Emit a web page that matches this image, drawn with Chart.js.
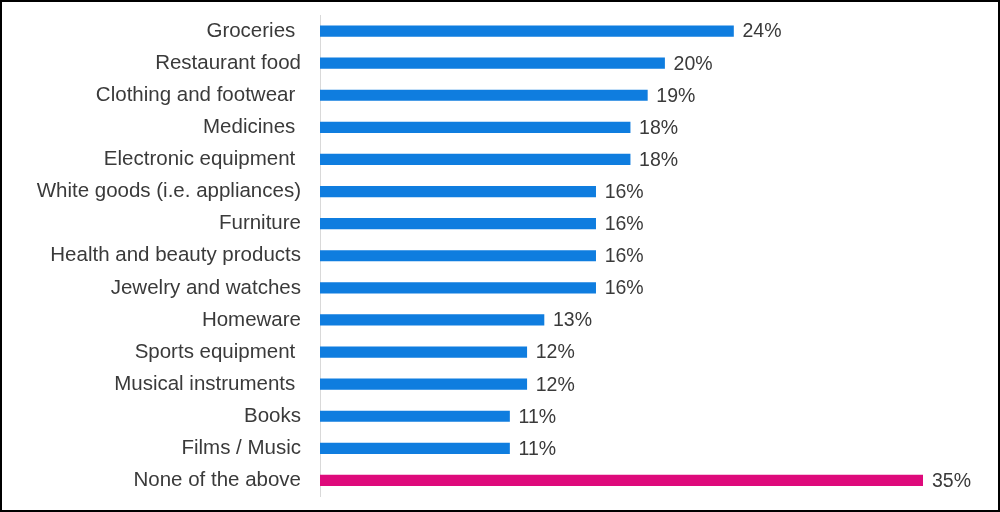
<!DOCTYPE html>
<html>
<head>
<meta charset="utf-8">
<script src="https://cdn.jsdelivr.net/npm/chart.js@4"></script>
<style>
  html, body { margin: 0; padding: 0; background: #fff; }
  #wrap { position: relative; width: 1000px; height: 512px; }
  #frame { position: absolute; inset: 0; border: 2px solid #000; pointer-events: none; box-sizing: border-box; }
  canvas { display: block; }
</style>
</head>
<body>
<div id="wrap">
  <canvas id="chart" width="1000" height="512"></canvas>
  <div id="frame"></div>
</div>
<script>
// ── Data ────────────────────────────────────────────────────────────────────

const categories = [
  "Groceries ",
  "Restaurant food",
  "Clothing and footwear ",
  "Medicines ",
  "Electronic equipment ",
  "White goods (i.e. appliances)",
  "Furniture",
  "Health and beauty products",
  "Jewelry and watches",
  "Homeware",
  "Sports equipment ",
  "Musical instruments ",
  "Books",
  "Films / Music",
  "None of the above"
];
const values = [24, 20, 19, 18, 18, 16, 16, 16, 16, 13, 12, 12, 11, 11, 35];
const highlight = "None of the above";

const BLUE = "#0f7ddf";
const PINK = "#de0a7b";
const TEXT = "#3a3a3a";
const FONT = "'Liberation Sans', Arial, sans-serif";

// ── Value labels at bar ends ────────────────────────────────────────────────

const barLabels = {
  id: "barLabels",
  afterDatasetsDraw(chart) {
    const ctx = chart.ctx;
    const meta = chart.getDatasetMeta(0);
    ctx.save();
    ctx.font = `19.5px ${FONT}`;
    ctx.fillStyle = TEXT;
    ctx.textAlign = "left";
    ctx.textBaseline = "middle";
    meta.data.forEach((bar, i) => {
      ctx.fillText(values[i] + "%", bar.x + 9, bar.y + 1);
    });
    ctx.restore();
  }
};

// ── Chart ───────────────────────────────────────────────────────────────────

new Chart(document.getElementById("chart"), {
  type: "bar",
  data: {
    labels: categories,
    datasets: [{
      data: values,
      backgroundColor: categories.map(c => c === highlight ? PINK : BLUE),
      barThickness: 10.5,
      borderWidth: 0
    }]
  },
  options: {
    indexAxis: "y",
    responsive: false,
    animation: false,
    layout: { padding: { left: 0, right: 77, top: 15, bottom: 15.5 } },
    plugins: {
      legend: { display: false },
      tooltip: { enabled: false }
    },
    scales: {
      x: {
        display: false,
        min: 0,
        max: 35
      },
      y: {
        // fixed axis position, and no extra room above/below for tick labels
        afterFit: s => {
          s.width = 320;
          s.paddingTop = 0;
          s.paddingBottom = 0;
        },
        grid: { display: false, drawTicks: false },
        border: { display: true, color: "#d9d9d9", width: 1 },
        ticks: {
          color: TEXT,
          padding: 19,
          font: { family: FONT, size: 20.5 }
        }
      }
    }
  },
  plugins: [barLabels]
});
</script>
</body>
</html>
